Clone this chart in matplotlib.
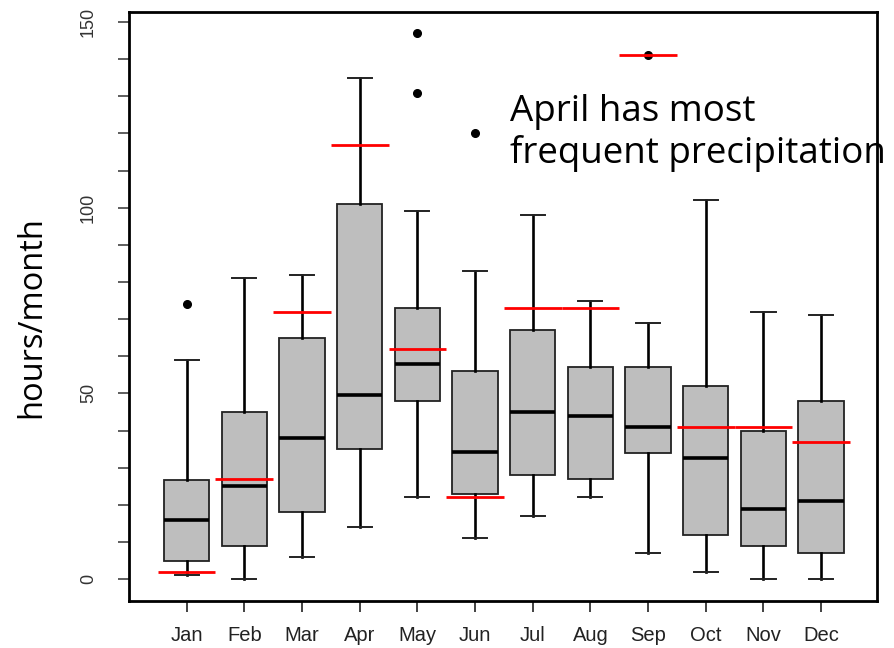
import numpy as np
import matplotlib
matplotlib.use("Agg")
import matplotlib.pyplot as plt

# monthly precipitation hours
months = ['Jan', 'Feb', 'Mar', 'Apr', 'May', 'Jun',
          'Jul', 'Aug', 'Sep', 'Oct', 'Nov', 'Dec']
whislo = [1, 0, 6, 14, 22, 11, 17, 22, 7, 2, 0, 0]
q1 = [4.8, 9, 18, 35, 48, 23, 28, 27, 34, 12, 9, 7]
med = [16, 25, 38, 49.5, 58, 34.3, 45, 44, 41, 32.7, 19, 21]
q3 = [26.8, 45, 65, 101, 73, 56, 67, 57, 57, 52, 40, 48]
whishi = [59, 81, 82, 135, 99, 83, 98, 75, 69, 102, 72, 71]
fliers = [[74], [], [], [], [147, 131], [120], [], [], [141], [], [], []]
# red reference marks per month
red_marks = [2, 27, 72, 117, 62, 22, 73, 73, 141, 41, 41, 37]

stats = []
for i in range(len(months)):
    stats.append({'whislo': whislo[i], 'q1': q1[i], 'med': med[i],
                  'q3': q3[i], 'whishi': whishi[i], 'fliers': fliers[i]})
pos = np.arange(1, len(months) + 1)

fig = plt.figure(figsize=(8.95, 6.48), dpi=100)
ax = fig.add_axes([0.1441, 0.0725, 0.8358, 0.9095])

ax.bxp(stats, positions=pos, widths=0.79, patch_artist=True,
       boxprops=dict(facecolor='#bebebe', edgecolor='#222222', linewidth=1.3),
       medianprops=dict(color='black', linewidth=2.6),
       whiskerprops=dict(color='black', linewidth=1.9),
       capprops=dict(color='#222222', linewidth=1.4),
       capwidths=0.42,
       flierprops=dict(marker='o', markerfacecolor='black',
                       markeredgecolor='black', markersize=5.5))

ax.hlines(red_marks, pos - 0.5, pos + 0.5, colors='red', linewidth=2, zorder=5)

ax.set_xlim(0, 12.97)
ax.set_ylim(-5.9, 152.8)

ax.set_xticks(pos)
ax.set_xticklabels(months, fontsize=14.5, family='Liberation Sans')
yt = np.arange(0, 151, 10)
ax.set_yticks(yt)
ax.set_yticklabels([str(v) if v % 50 == 0 else '' for v in yt],
                   rotation=90, va='center', fontsize=13,
                   family='Liberation Sans')
ax.tick_params(axis='x', length=8, width=1.3, pad=10, colors='#333333',
               labelcolor='#222222')
ax.tick_params(axis='y', length=8, width=1.1, pad=15, colors='#333333',
               labelcolor='#333333')

for s in ax.spines.values():
    s.set_linewidth(2)
    s.set_color('black')

ax.set_ylabel('hours/month', fontsize=23.5, family='Open Sans', labelpad=23)
ax.yaxis.label.set_y(0.481)

fig.text(510 / 895, 1 - 133 / 648, 'April has most\nfrequent precipitation',
         fontsize=26.5, family='Open Sans', va='center', ha='left',
         linespacing=1.2)

fig.savefig('out.png', dpi=100)
